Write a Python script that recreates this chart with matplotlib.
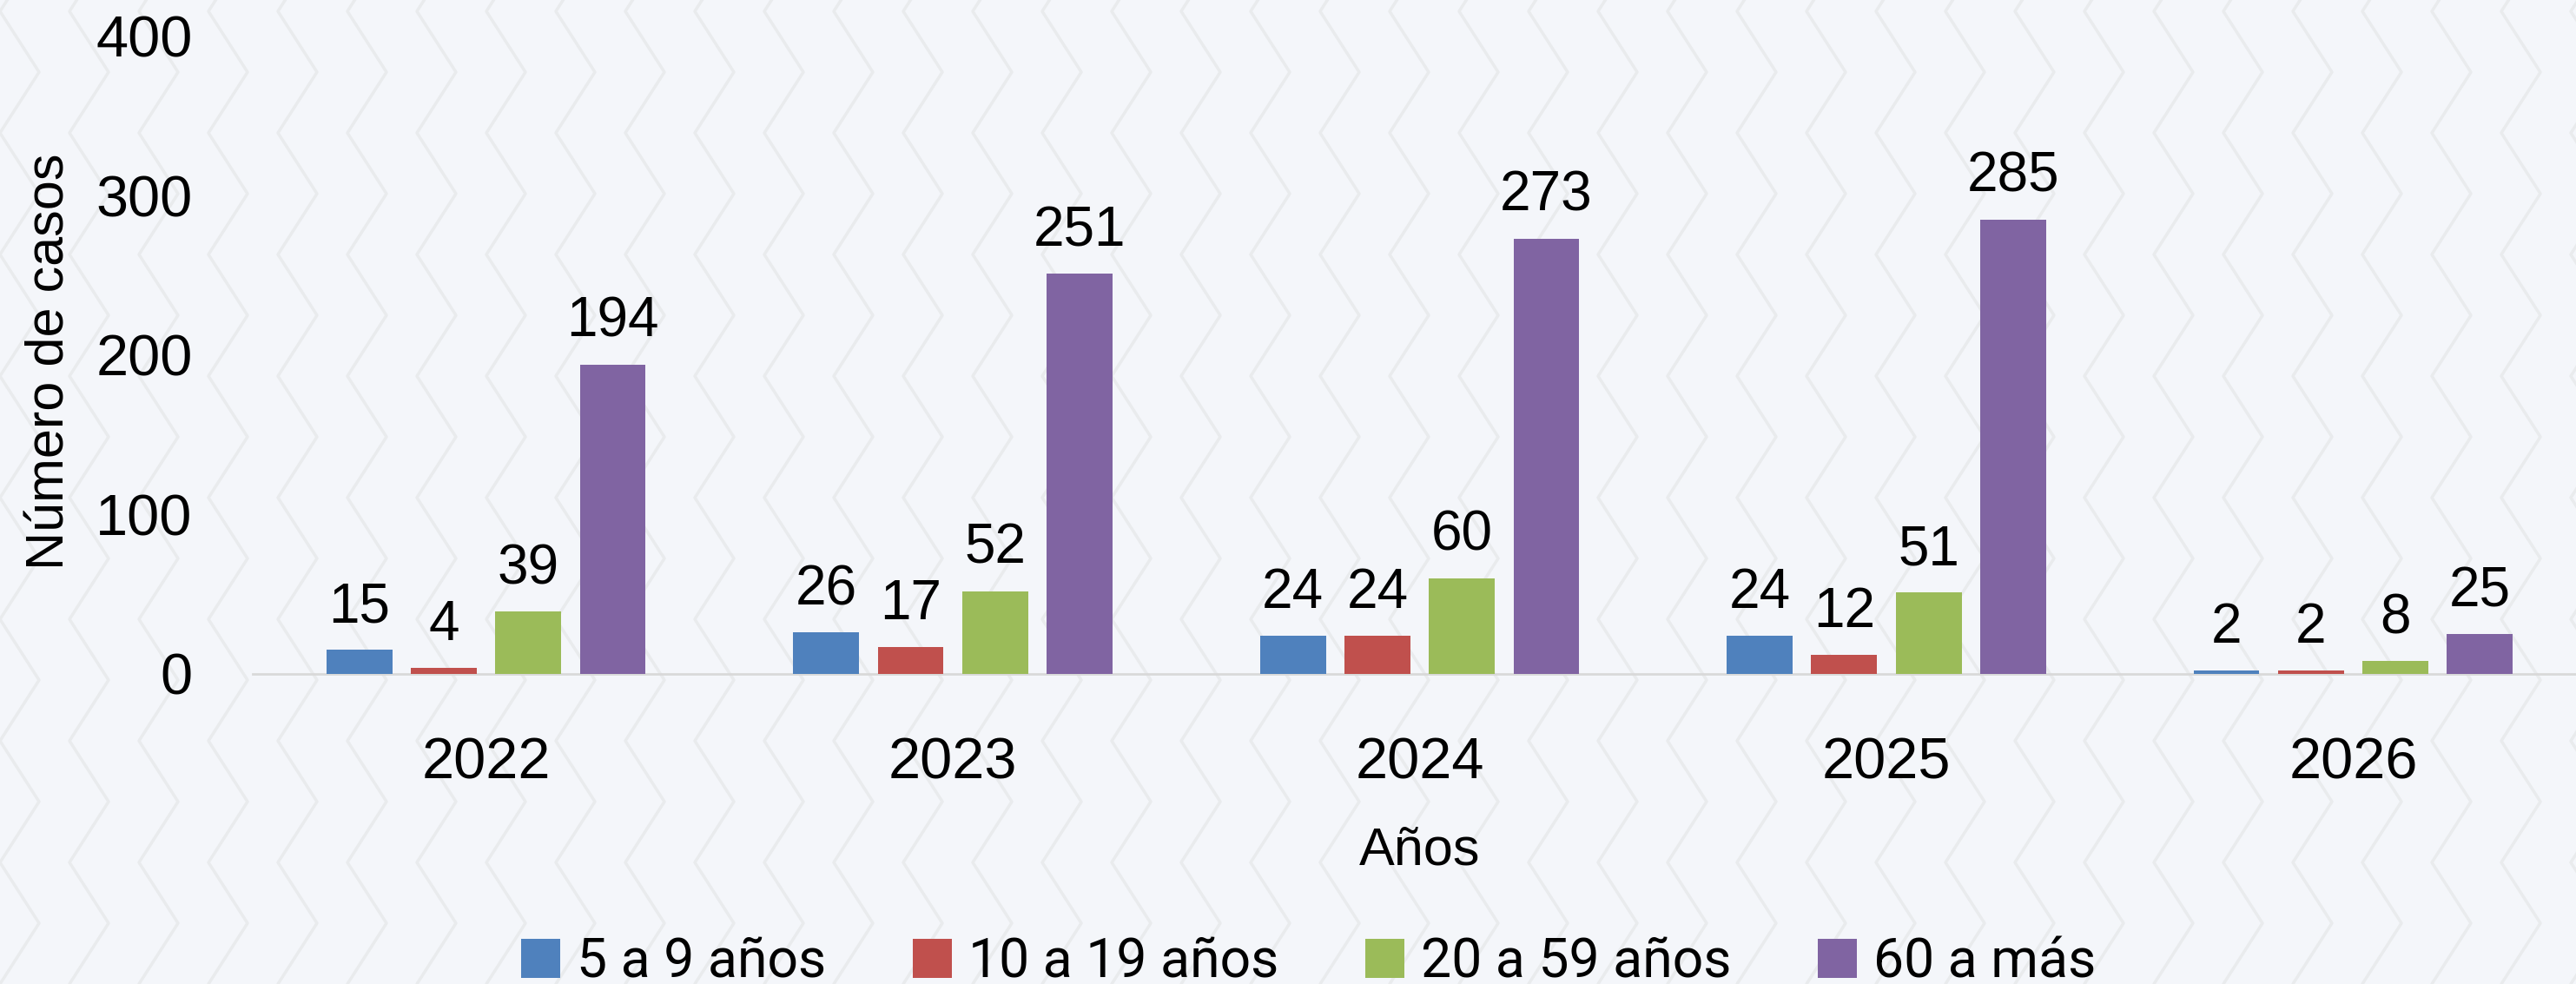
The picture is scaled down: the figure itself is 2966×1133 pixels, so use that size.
"""Casos por grupo de edad y año."""
import numpy as np
import matplotlib.pyplot as plt
from matplotlib.lines import Line2D

years = ['2022', '2023', '2024', '2025', '2026']
groups = ['5 a 9 años', '10 a 19 años', '20 a 59 años', '60 a más']
casos_5_9 = [15, 26, 24, 24, 2]
casos_10_19 = [4, 17, 24, 12, 2]
casos_20_59 = [39, 52, 60, 51, 8]
casos_60 = [194, 251, 273, 285, 25]
series = [casos_5_9, casos_10_19, casos_20_59, casos_60]
colors = ['#4f81bd', '#c0504d', '#9bbb59', '#8064a2']

plt.rcParams['font.family'] = ['Liberation Sans', 'DejaVu Sans']

fig = plt.figure(figsize=(29.66, 11.33), dpi=100)
fig.patch.set_facecolor('#f4f6fa')

# faint chevron texture in the background
period, amp, step = 140 / 1133, 45 / 2966, 80 / 2966
ys = np.arange(-1, 20) * period / 2
for x0 in np.arange(0, 1.05, step):
    xs = np.where(np.arange(len(ys)) % 2 == 0, x0 + amp, x0)
    fig.add_artist(Line2D(xs, ys, color='#e9ebed', lw=2.5, zorder=0))

ax = fig.add_axes([0.0981, 0.3151, 0.906, 0.648])
ax.set_facecolor('none')

x = np.arange(len(years))
pitch, width = 0.181, 0.141
for i, (vals, col, lab) in enumerate(zip(series, colors, groups)):
    pos = x + (i - 1.5) * pitch
    bars = ax.bar(pos, vals, width, color=col, label=lab, zorder=3)
    for b, v in zip(bars, vals):
        ax.annotate(str(v), (b.get_x() + b.get_width() / 2, v),
                    xytext=(0, 23), textcoords='offset points',
                    ha='center', va='baseline', fontsize=46)

ax.set_xlim(-0.5, len(years) - 0.5)
ax.set_ylim(0, 400)
ax.set_yticks([0, 100, 200, 300, 400])
ax.set_xticks(x)
ax.set_xticklabels(years)
ax.tick_params(axis='both', length=0, labelsize=48)
ax.tick_params(axis='y', pad=50)
ax.tick_params(axis='x', pad=52)
for s in ['top', 'right', 'left']:
    ax.spines[s].set_visible(False)
ax.spines['bottom'].set_color('#d9d9d9')
ax.spines['bottom'].set_linewidth(2)

ax.set_xlabel('Años', fontsize=44, labelpad=30)
ax.set_ylabel('Número de casos', fontsize=44)
ax.yaxis.set_label_coords(-0.076, 0.49)

fig.legend(loc='center', bbox_to_anchor=(0.508, 0.022), ncol=4,
           frameon=False, prop={'family': 'Roboto', 'size': 45},
           handlelength=0.72, handleheight=0.72, handletextpad=0.3,
           columnspacing=1.6)

fig.savefig('out.png', dpi=100, facecolor=fig.get_facecolor())
